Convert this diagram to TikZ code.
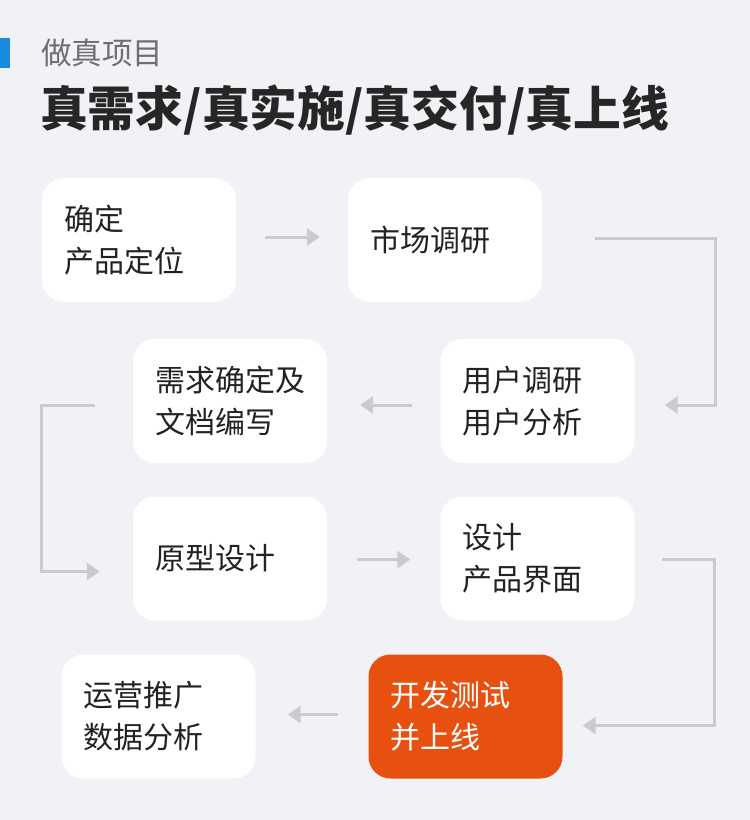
\documentclass[tikz,border=0pt]{standalone}
\usepackage{fontspec}
\setmainfont{Noto Sans CJK SC}
\usetikzlibrary{arrows.meta}
\definecolor{bg}{HTML}{F1F2F6}
\definecolor{accent}{HTML}{1A8CE0}
\definecolor{subgray}{HTML}{6E6E70}
\definecolor{titlecol}{HTML}{262626}
\definecolor{txt}{HTML}{222222}
\definecolor{orange}{HTML}{E8500F}
\definecolor{arrcol}{HTML}{CACBD0}
\tikzset{
  box/.style={fill=white, rounded corners=22pt, minimum width=194pt, minimum height=124pt,
    text width=150pt, align=left, inner xsep=22pt, inner ysep=0pt,
    font=\fontsize{30}{42}\selectfont, text=txt},
  hot/.style={box, fill=orange, text=white},
  arr/.style={draw=arrcol, line width=3pt, -{Triangle[length=13pt,width=17pt]}},
}
\begin{document}
\begin{tikzpicture}[x=1pt,y=-1pt]
\fill[bg] (0,0) rectangle (750,820);
\useasboundingbox (0,0) rectangle (750,820);
\fill[accent] (0,38) rectangle (10,68);
\node[anchor=west, inner sep=0pt, text=subgray, font=\fontsize{30.5}{34}\selectfont] (sub) at (41,53) {做真项目};
\node[anchor=west, inner sep=0pt, text=titlecol, font=\fontsize{47.8}{58}\selectfont\bfseries] (title) at (40,110) {真需求/真实施/真交付/真上线};

\node[box] (b1) at (139,240) {确定\\产品定位};
\node[box] (b2) at (445,240) {市场调研};
\node[box] (b3) at (230,401) {需求确定及\\文档编写};
\node[box] (b4) at (537.5,401) {用户调研\\用户分析};
\node[box] (b5) at (230,558.5) {原型设计};
\node[box] (b6) at (537.5,558.5) {设计\\产品界面};
\node[box] (b7) at (158.5,716.5) {运营推广\\数据分析};
\node[hot] (b8) at (465.5,716.5) {开发测试\\并上线};

\draw[arr, shorten <=29pt, shorten >=28pt] ([yshift=3pt]b1.east) -- ([yshift=3pt]b2.west);
\draw[arr] ([xshift=53pt,yshift=2pt]b2.east) -- ++(120,0) |- ([xshift=30pt,yshift=-4pt]b4.east);
\draw[arr, shorten <=28pt, shorten >=33pt] ([yshift=-4pt]b4.west) -- ([yshift=-4pt]b3.east);
\draw[arr] ([xshift=-38pt,yshift=-4pt]b3.west) -- ++(-53,0) |- ([xshift=-33pt,yshift=-13pt]b5.west);
\draw[arr, shorten <=30pt, shorten >=30pt] ([yshift=-1pt]b5.east) -- ([yshift=-1pt]b6.west);
\draw[arr] ([xshift=27pt,yshift=-1pt]b6.east) -- ++(53,0) |- ([xshift=20pt,yshift=-9pt]b8.east);
\draw[arr, shorten <=30pt, shorten >=32pt] ([yshift=2pt]b8.west) -- ([yshift=2pt]b7.east);
\end{tikzpicture}
\end{document}
